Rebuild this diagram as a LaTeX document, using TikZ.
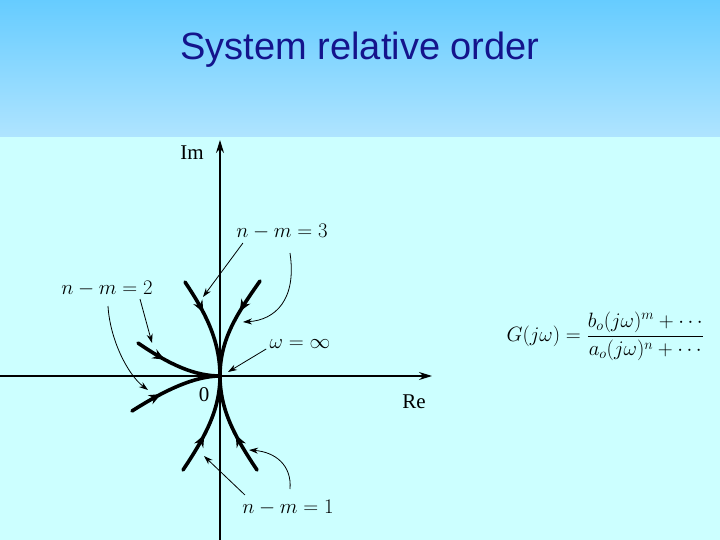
\documentclass[tikz,border=0pt]{standalone}
\usepackage{fontspec}
\setmainfont{Liberation Serif}
\newfontfamily\titlefont{Liberation Sans}
\usetikzlibrary{arrows.meta,decorations.markings}
\definecolor{hdtop}{RGB}{102,204,255}
\definecolor{hdbot}{RGB}{175,228,255}
\definecolor{bodybg}{RGB}{204,255,255}
\definecolor{navy}{RGB}{20,20,140}
\tikzset{
  branch/.style={line width=3.6pt,line cap=round,postaction={decorate},
    decoration={markings,mark=at position #1 with {\arrow{Stealth[length=12pt,width=10pt]}}}},
  thin/.style={line width=0.8pt,-{Stealth[length=9pt,width=6pt]}},
  axis/.style={line width=1.3pt,-{Stealth[length=13pt,width=8pt]}},
  lab/.style={font=\fontsize{21}{23}\selectfont},
}
\begin{document}
\begin{tikzpicture}[x=1pt,y=-1pt]
\useasboundingbox (0,0) rectangle (720,540);
\fill[bodybg] (0,137) rectangle (720,540);
\shade[top color=hdtop,bottom color=hdbot] (0,0) rectangle (720,137);
\node[navy,font=\titlefont\fontsize{38}{40}\selectfont] (title) at (360,50) {System relative order};
% axes
\coordinate (O) at (220,376);
\coordinate (xs) at (0,376); \coordinate (xe) at (432,376);
\coordinate (ys) at (220,540); \coordinate (ye) at (220,140);
\draw[axis] (xs) -- (xe);
\draw[axis] (ys) -- (ye);
\node[lab] (im) at (192,153) {Im};
\node[lab] (re) at (414,402) {Re};
\node[lab] (zero) at (204,395) {0};
% branches
\draw[branch=0.35] (185,282) .. controls (205,312) and (220,340) .. (O);
\draw[branch=0.35] (260,281) .. controls (236,315) and (220,340) .. (O);
\draw[branch=0.35] (138,343) .. controls (170,365) and (195,376) .. (O);
\draw[branch=0.35] (132,411) .. controls (165,390) and (195,376) .. (O);
\draw[branch=0.4] (183,470) .. controls (205,437) and (220,410) .. (O);
\draw[branch=0.4] (257,470) .. controls (235,437) and (220,410) .. (O);
% labels
\node[lab] (l3) at (282,232) {$n-m=3$};
\node[lab] (l2) at (107,289) {$n-m=2$};
\node[lab] (lw) at (300,344) {$\omega=\infty$};
\node[lab] (l1) at (288,508) {$n-m=1$};
\draw[thin] (l3.south west) ++(10,0) coordinate (a3) -- (203,297);
\draw[thin] (290,253) .. controls (297,300) and (275,320) .. (243,322);
\draw[thin] (140,299) -- (152,343);
\draw[thin] (108,306) .. controls (110,340) and (128,375) .. (148,390);
\draw[thin] (lw.west) ++(0,5) coordinate (aw) -- (228,372);
\draw[thin] (l1.north west) ++(6,-2) coordinate (a1) -- (204,456);
\draw[thin] (290,489) .. controls (292,465) and (275,452) .. (249,450);
% formula
\node[lab,anchor=west] (G) at (503,336) {$\displaystyle G(j\omega)=\frac{b_o(j\omega)^m+\cdots}{a_o(j\omega)^n+\cdots}$};
\end{tikzpicture}
\end{document}
